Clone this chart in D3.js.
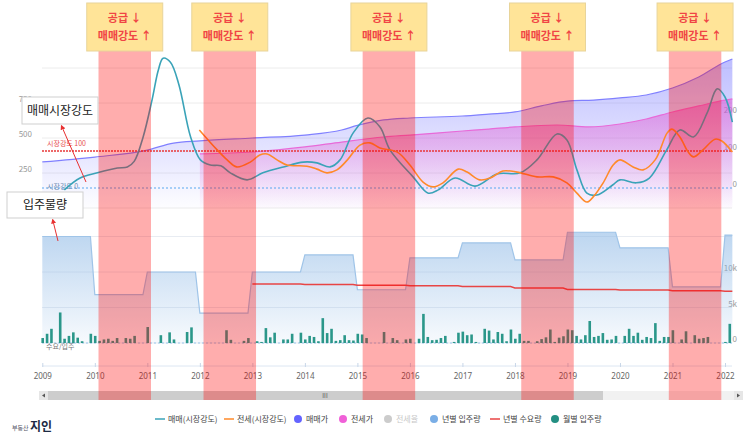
<!DOCTYPE html>
<html>
<head>
<meta charset="utf-8">
<script src="https://d3js.org/d3.v7.min.js"></script>
<style>
body { margin: 0; background: #fff; font-family: "Noto Sans CJK KR", "Noto Sans", sans-serif; }
</style>
</head>
<body>
<div id="plot"></div>
<script>
// x axis years
var years = [2009, 2010, 2011, 2012, 2013, 2014, 2015, 2016, 2017, 2018, 2019, 2020, 2021, 2022];

// highlighted periods (start year, one year long)
var bandStarts = [2010.07, 2012.07, 2015.1, 2018.12, 2020.93];
var calloutText = ["공급 ↓", "매매강도 ↑"];

// 매매가 (left axis)
var saleDates = [2009, 2010, 2011, 2011.5, 2012, 2013, 2014, 2014.7, 2015, 2015.5, 2016, 2017, 2017.5, 2018, 2018.5, 2019, 2019.5, 2020, 2020.5, 2021, 2021.5, 2022, 2022.14];
var salePrice = [329, 364, 414, 464, 479, 500, 521, 557, 590, 629, 643, 657, 671, 686, 729, 764, 771, 786, 807, 857, 936, 1043, 1064];

// 전세가 (left axis)
var jeonseDates = [2012, 2013, 2014, 2014.7, 2015.5, 2016, 2017, 2017.5, 2018, 2018.8, 2019.4, 2020, 2020.5, 2021, 2021.5, 2022, 2022.14];
var jeonsePrice = [386, 400, 436, 471, 507, 521, 550, 564, 579, 593, 579, 600, 636, 686, 729, 771, 779];

// 매매(시장강도) (right axis)
var saleStrDates = [2009.42, 2009.72, 2010.05, 2010.43, 2010.62, 2010.75, 2010.92, 2011.09, 2011.21, 2011.3, 2011.44, 2011.6, 2011.82, 2012.01, 2012.2, 2012.4, 2012.58, 2012.9, 2013.2, 2013.59, 2013.97, 2014.23, 2014.48, 2014.67, 2014.92, 2015.2, 2015.43, 2015.62, 2016.06, 2016.35, 2016.54, 2016.86, 2017.24, 2017.66, 2018.1, 2018.42, 2018.8, 2018.99, 2019.18, 2019.37, 2019.56, 2019.86, 2020.0, 2020.31, 2020.56, 2020.89, 2021.14, 2021.4, 2021.66, 2021.85, 2022.0, 2022.14];
var saleStrength = [-5, 27, 41, 54, 57, 72, 138, 238, 319, 351, 340, 280, 140, 76, 62, 60, 41, 22, 41, 57, 70, 68, 57, 76, 149, 189, 165, 103, 30, -14, -5, 27, 5, 38, 41, 76, 146, 130, 49, -14, -19, 8, 22, 14, 27, 103, 157, 138, 203, 268, 246, 178];

// 전세(시장강도) (right axis)
var jeonseStrDates = [2011.99, 2012.33, 2012.52, 2012.7, 2012.96, 2013.14, 2013.28, 2013.47, 2013.66, 2014.04, 2014.23, 2014.42, 2014.61, 2014.81, 2015.05, 2015.24, 2015.43, 2015.76, 2016.0, 2016.25, 2016.44, 2016.63, 2016.92, 2017.09, 2017.33, 2017.53, 2017.77, 2018.04, 2018.42, 2018.73, 2018.99, 2019.18, 2019.37, 2019.49, 2019.68, 2019.87, 2020.0, 2020.25, 2020.44, 2020.67, 2020.9, 2020.99, 2021.14, 2021.3, 2021.4, 2021.58, 2021.81, 2021.94, 2022.14];
var jeonseStrength = [157, 103, 76, 57, 70, 89, 92, 76, 62, 59, 51, 41, 49, 76, 116, 122, 108, 97, 62, 16, 3, 14, 51, 43, 22, 27, 46, 43, 30, 30, 14, -14, -38, -24, 14, 62, 76, 57, 49, 76, 149, 159, 138, 97, 84, 103, 132, 127, 97];

// 년별 입주량 / 년별 수요량 (thousands)
var supplyYearly = [15.0, 6.8, 10.0, 4.2, 10.0, 12.4, 7.5, 12.0, 14.1, 11.7, 15.6, 13.4, 7.9, 15.2];
var demandYears = [2013, 2014, 2015, 2016, 2017, 2018, 2019, 2020, 2021, 2022];
var demandYearly = [8.3, 8.25, 8.15, 8.05, 7.95, 7.75, 7.55, 7.45, 7.35, 7.3];

// 월별 입주량 (thousands, monthly from 2009-01)
var monthlySupply = [
    0.7, 1.3, 2.0, 0, 4.3, 0.6, 1.0, 1.5, 0.75, 0.25, 0, 1.3,
    1.0, 0.3, 0.5, 0.6, 0.3, 0.7, 0, 0.7, 0.6, 1.0, 0, 0,
    2.25, 0, 0, 1.1, 0, 1.5, 0.5, 0, 0, 1.55, 2.2, 0,
    0, 0, 0, 0, 0, 0, 1.8, 0.45, 0, 0, 0.3, 0.7,
    0, 0.25, 0.15, 2.1, 0.8, 1.45, 0, 0.5, 0.5, 1.3, 0, 1.45,
    0.5, 1.0, 0.85, 0.25, 3.5, 1.4, 2.0, 0.3, 0.4, 1.1, 0.4, 0.35,
    1.3, 1.2, 0.7, 0, 0, 0, 1.55, 0, 0.7, 0.4, 0, 0.5,
    0.6, 0, 0.6, 4.1, 0.85, 0.4, 0.45, 0.7, 1.0, 0, 0.15, 1.45,
    1.6, 1.1, 1.2, 0.15, 0, 2.0, 1.75, 0.5, 1.55, 1.3, 0.25, 1.9,
    0.6, 1.3, 0.3, 0.3, 0, 0.25, 0.55, 0.8, 1.9, 0.15, 0.75, 0.95,
    1.9, 1.8, 1.0, 0.5, 1.1, 3.1, 0.85, 1.0, 1.4, 0.45, 0.5, 1.0,
    0, 1.0, 2.0, 1.0, 1.45, 0.45, 0.85, 0.7, 2.8, 0.3, 0.85, 0.85,
    1.8, 0, 0.5, 1.65, 0, 1.1, 0.6, 0.7, 0.85, 0, 0, 0,
    0.15, 2.7
];

var legendNames = ["매매(시장강도)", "전세(시장강도)", "매매가", "전세가", "전세율", "년별 입주량", "년별 수요량", "월별 입주량"];

var total_width = 743, total_height = 438;
var plotLeft = 42, plotRight = 732;

var svg = d3.select("#plot").append("svg").attr("width", total_width).attr("height", total_height);
var defs = svg.append("defs");

var x = d3.scaleLinear().domain([2009, 2022]).range([42.3, 725]);
var yPrice = d3.scaleLinear().domain([0, 1000]).range([208, 68]);
var yStr = d3.scaleLinear().domain([0, 100]).range([188, 151]);
var yVol = d3.scaleLinear().domain([0, 15]).range([343, 236.5]);

function grad(id, color, y1, y2, o1, o2) {
    var g = defs.append("linearGradient").attr("id", id).attr("gradientUnits", "userSpaceOnUse")
        .attr("x1", 0).attr("x2", 0).attr("y1", y1).attr("y2", y2);
    g.append("stop").attr("offset", 0).attr("stop-color", color).attr("stop-opacity", o1);
    g.append("stop").attr("offset", 1).attr("stop-color", color).attr("stop-opacity", o2);
}
grad("gSale", "#7878ff", 55, 212, 0.5, 0);
grad("gJeonse", "#e050d0", 95, 212, 0.55, 0);
grad("gSupply", "#86b4e4", 232, 345, 0.55, 0.06);

// gridlines
svg.append("g").selectAll("line").data([0, 250, 500, 750, 1000]).join("line")
    .attr("x1", plotLeft).attr("x2", plotRight).attr("y1", d => yPrice(d)).attr("y2", d => yPrice(d))
    .attr("stroke", "#ececec").attr("stroke-width", 1);
svg.append("g").selectAll("line").data([0, 5, 10, 15]).join("line")
    .attr("x1", plotLeft).attr("x2", plotRight).attr("y1", d => yVol(d)).attr("y2", d => yVol(d))
    .attr("stroke", "#e8ecf2").attr("stroke-width", 1);

// left / right axis labels
svg.append("g").selectAll("text").data([250, 500, 750]).join("text")
    .attr("x", 32).attr("y", d => yPrice(d) - 3).attr("text-anchor", "end").attr("dominant-baseline", "middle")
    .attr("font-size", 8).attr("fill", "#999").text(d => d);
svg.append("g").selectAll("text").data([0, 100, 200]).join("text")
    .attr("x", 737).attr("y", d => yStr(d) - 3).attr("text-anchor", "end").attr("dominant-baseline", "middle")
    .attr("font-size", 8).attr("fill", "#999").text(d => d);
svg.append("g").selectAll("text").data([0, 5, 10]).join("text")
    .attr("x", 737).attr("y", d => yVol(d) - 3).attr("text-anchor", "end").attr("dominant-baseline", "middle")
    .attr("font-size", 8).attr("fill", "#999").text(d => d === 0 ? "0" : d + "k");

// price areas
var saleData = saleDates.map((d, i) => ({t: d, v: salePrice[i]}));
var jeonseData = jeonseDates.map((d, i) => ({t: d, v: jeonsePrice[i]}));
var priceArea = d3.area().x(d => x(d.t)).y0(yPrice(0)).y1(d => yPrice(d.v)).curve(d3.curveMonotoneX);
var priceLine = d3.line().x(d => x(d.t)).y(d => yPrice(d.v)).curve(d3.curveMonotoneX);

svg.append("path").datum(saleData).attr("d", priceArea).attr("fill", "url(#gSale)");
svg.append("path").datum(saleData).attr("d", priceLine).attr("fill", "none").attr("stroke", "#8080ff").attr("stroke-width", 1.2);
svg.append("path").datum(jeonseData).attr("d", priceArea).attr("fill", "url(#gJeonse)");
svg.append("path").datum(jeonseData).attr("d", priceLine).attr("fill", "none").attr("stroke", "#e86ad8").attr("stroke-width", 1.2);

// strength reference lines
svg.append("line").attr("x1", plotLeft).attr("x2", plotRight).attr("y1", yStr(100)).attr("y2", yStr(100))
    .attr("stroke", "#e83838").attr("stroke-width", 1.6).attr("stroke-dasharray", "2,1");
svg.append("line").attr("x1", plotLeft).attr("x2", plotRight).attr("y1", yStr(0)).attr("y2", yStr(0))
    .attr("stroke", "#58a8f0").attr("stroke-width", 1.2).attr("stroke-dasharray", "2,2");
svg.append("text").attr("x", 47).attr("y", yStr(100) - 5).attr("font-size", 7).attr("fill", "#e85050").text("시장강도 100");
svg.append("text").attr("x", 47).attr("y", yStr(0) + 1).attr("font-size", 7).attr("fill", "#6a8ab0").text("시장강도 0");

// strength lines
var strLine = d3.line().x(d => x(d.t)).y(d => yStr(d.v)).curve(d3.curveCatmullRom.alpha(0.5));
svg.append("path").datum(saleStrDates.map((d, i) => ({t: d, v: saleStrength[i]})))
    .attr("d", strLine).attr("fill", "none").attr("stroke", "#3aa3b8").attr("stroke-width", 1.6);
svg.append("path").datum(jeonseStrDates.map((d, i) => ({t: d, v: jeonseStrength[i]})))
    .attr("d", strLine).attr("fill", "none").attr("stroke", "#ff8a2a").attr("stroke-width", 1.6);

// yearly supply step area
var supplyPts = [];
years.forEach(function(y, i) {
    supplyPts.push({t: y, v: supplyYearly[i]});
    supplyPts.push({t: Math.min(y + 11 / 12, 2022.14), v: supplyYearly[i]});
});
var volArea = d3.area().x(d => x(d.t)).y0(yVol(0)).y1(d => yVol(d.v));
var volLine = d3.line().x(d => x(d.t)).y(d => yVol(d.v));
svg.append("path").datum(supplyPts).attr("d", volArea).attr("fill", "url(#gSupply)");
svg.append("path").datum(supplyPts).attr("d", volLine).attr("fill", "none").attr("stroke", "#9fc4e8").attr("stroke-width", 1.2);

svg.append("line").attr("x1", plotLeft).attr("x2", plotRight).attr("y1", yVol(0)).attr("y2", yVol(0))
    .attr("stroke", "#9cc8ec").attr("stroke-width", 1).attr("stroke-dasharray", "2,2");

// monthly supply bars
svg.append("g").selectAll("rect").data(monthlySupply).join("rect")
    .attr("x", (d, i) => x(2009 + i / 12) - 1.3 + 0.4)
    .attr("width", 2.6)
    .attr("y", d => yVol(d))
    .attr("height", d => yVol(0) - yVol(d))
    .attr("fill", "#2b978a");

// yearly demand line
var demandPts = [];
demandYears.forEach(function(y, i) {
    demandPts.push({t: y, v: demandYearly[i]});
    demandPts.push({t: Math.min(y + 11 / 12, 2022.14), v: demandYearly[i]});
});
svg.append("path").datum(demandPts).attr("d", volLine).attr("fill", "none").attr("stroke", "#e84545").attr("stroke-width", 1.5);

svg.append("text").attr("x", 46).attr("y", 349).attr("font-size", 7).attr("fill", "#777").text("수요/입주");

// x axis
var xAxis = d3.axisBottom(x).tickValues(years).tickFormat(d3.format("d")).tickSize(3).tickPadding(4);
var xg = svg.append("g").attr("transform", "translate(0,366)").call(xAxis);
xg.select(".domain").attr("stroke", "#dce6f2").attr("d", "M" + plotLeft + ",0H" + plotRight);
xg.selectAll(".tick line").attr("stroke", "#c8d6e8").attr("y1", -3).attr("y2", 1);
xg.selectAll("text").attr("font-size", 8).attr("fill", "#666").attr("font-family", "'Noto Sans', sans-serif");

// scrollbar
var sb = svg.append("g");
sb.append("rect").attr("x", 39).attr("y", 391).attr("width", 704).attr("height", 9).attr("fill", "#f1f1f1");
sb.append("rect").attr("x", 48).attr("y", 391).attr("width", 555).attr("height", 9).attr("fill", "#cdcdcd");
sb.append("rect").attr("x", 39).attr("y", 391).attr("width", 9).attr("height", 9).attr("fill", "#e6e6e6");
sb.append("rect").attr("x", 734).attr("y", 391).attr("width", 9).attr("height", 9).attr("fill", "#e6e6e6");
sb.append("path").attr("d", "M45,393.5L42,395.5L45,397.5Z").attr("fill", "#555");
sb.append("path").attr("d", "M737,393.5L740,395.5L737,397.5Z").attr("fill", "#555");
sb.append("text").attr("x", 325).attr("y", 398).attr("text-anchor", "middle").attr("font-size", 6).attr("fill", "#555").text("III");

// highlighted bands on top
svg.append("g").selectAll("rect").data(bandStarts).join("rect")
    .attr("x", d => x(d)).attr("width", d => x(d + 1) - x(d))
    .attr("y", 51).attr("height", 349)
    .attr("fill", "#ff0000").attr("fill-opacity", 0.32);

// callouts
var callouts = svg.append("g").selectAll("g").data(bandStarts).join("g")
    .attr("transform", d => "translate(" + ((x(d) + x(d + 1)) / 2) + ",0)");
callouts.append("rect").attr("x", -38).attr("y", 3).attr("width", 76).attr("height", 48)
    .attr("fill", "#ffe498").attr("stroke", "#e8d49a").attr("stroke-width", 1);
callouts.selectAll("text").data(calloutText).join("text")
    .attr("x", 0).attr("y", (d, i) => 19 + i * 18).attr("text-anchor", "middle").attr("dominant-baseline", "middle")
    .attr("font-size", 11).attr("font-weight", "bold").attr("fill", "#f04545").text(d => d);

// annotations
defs.append("marker").attr("id", "arrow").attr("viewBox", "0 0 10 10").attr("refX", 5).attr("refY", 5)
    .attr("markerWidth", 5).attr("markerHeight", 5).attr("orient", "auto-start-reverse")
    .append("path").attr("d", "M0,0L10,5L0,10Z").attr("fill", "#e83030");

svg.append("line").attr("x1", 86).attr("y1", 182).attr("x2", 62).attr("y2", 127)
    .attr("stroke", "#e83030").attr("stroke-width", 1).attr("marker-end", "url(#arrow)");
svg.append("line").attr("x1", 58).attr("y1", 241).attr("x2", 53).attr("y2", 221)
    .attr("stroke", "#e83030").attr("stroke-width", 1).attr("marker-end", "url(#arrow)");

var notes = [{x: 22, y: 97, w: 76, h: 27, t: "매매시장강도"}, {x: 7, y: 192, w: 76, h: 26, t: "입주물량"}];
var ng = svg.append("g").selectAll("g").data(notes).join("g");
ng.append("rect").attr("x", d => d.x).attr("y", d => d.y).attr("width", d => d.w).attr("height", d => d.h)
    .attr("fill", "#fff").attr("stroke", "#cfcfcf").attr("stroke-width", 1);
ng.append("text").attr("x", d => d.x + d.w / 2).attr("y", d => d.y + d.h / 2 + 1)
    .attr("text-anchor", "middle").attr("dominant-baseline", "middle").attr("font-size", 12).attr("fill", "#222").text(d => d.t);

// legend
var legendX = [155, 224, 298, 343, 388, 434, 490, 555];
var legendColor = ["#3aa3b8", "#ff8a2a", "#6464ff", "#f060d8", "#cccccc", "#7aaee6", "#e84545", "#238f82"];
var legendLine = [true, true, false, false, false, false, true, false];
var lg = svg.append("g").selectAll("g").data(legendNames).join("g")
    .attr("transform", (d, i) => "translate(" + legendX[i] + ",419)");
lg.filter((d, i) => legendLine[i]).append("line").attr("x1", 0).attr("x2", 10).attr("y1", 0).attr("y2", 0)
    .attr("stroke", (d) => legendColor[legendNames.indexOf(d)]).attr("stroke-width", 1.5);
lg.filter((d, i) => !legendLine[i]).append("circle").attr("cx", 0).attr("cy", 0).attr("r", 4)
    .attr("fill", (d) => legendColor[legendNames.indexOf(d)]);
lg.append("text").attr("x", (d, i) => legendLine[i] ? 13 : 8).attr("y", 0.5).attr("dominant-baseline", "middle")
    .attr("font-size", 8).attr("fill", (d, i) => i === 4 ? "#c8c8c8" : "#444").text(d => d);

// logo
svg.append("text").attr("x", 12).attr("y", 430).attr("font-size", 6).attr("fill", "#556").text("부동산");
svg.append("text").attr("x", 30).attr("y", 431).attr("font-size", 12).attr("font-weight", "bold").attr("fill", "#1d2a44").text("지인");
</script>
</body>
</html>
